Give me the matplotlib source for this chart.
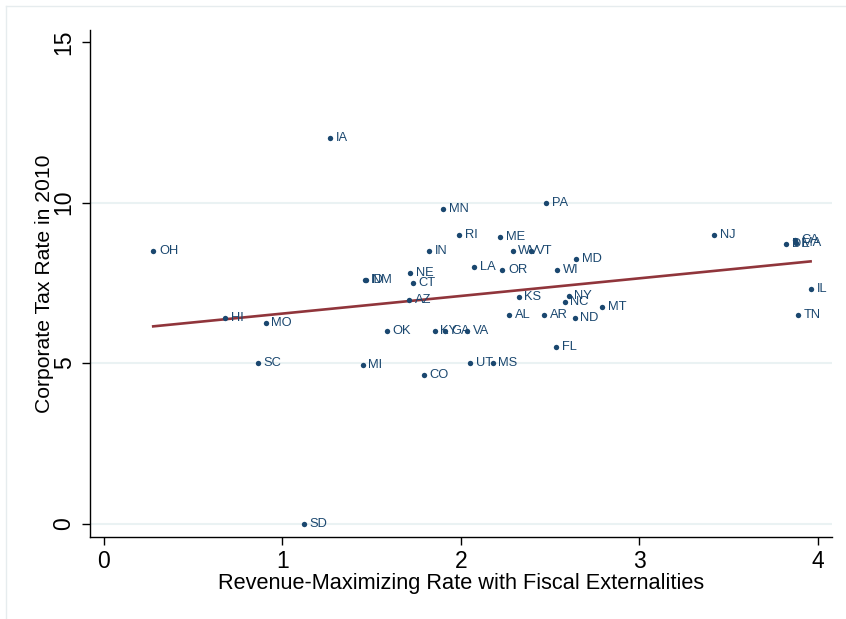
import numpy as np
import matplotlib
matplotlib.use("Agg")
import matplotlib.pyplot as plt
from matplotlib.lines import Line2D

# State corporate tax rates (2010) against the revenue-maximizing rate
states = ["IA", "PA", "MN", "OH", "RI", "ME", "NJ", "CA", "MA", "DE", "IN",
          "WV", "VT", "MD", "LA", "OR", "WI", "NE", "CT", "AZ", "KS", "NY",
          "NC", "MT", "AL", "AR", "ND", "OK", "KY", "GA", "VA", "FL", "UT",
          "MS", "CO", "MI", "SC", "HI", "MO", "ID", "NM", "IL", "TN", "SD"]
rev_max_rate = [1.269, 2.479, 1.902, 0.277, 1.992, 2.221, 3.418, 3.873, 3.878,
                3.824, 1.824, 2.290, 2.391, 2.647, 2.076, 2.233, 2.541, 1.717,
                1.730, 1.711, 2.324, 2.604, 2.582, 2.794, 2.272, 2.468, 2.638,
                1.586, 1.853, 1.913, 2.035, 2.533, 2.050, 2.178, 1.792, 1.450,
                0.862, 0.681, 0.907, 1.465, 1.468, 3.960, 3.890, 1.119]
corp_tax_2010 = [12.0, 9.99, 9.8, 8.5, 9.0, 8.93, 9.0, 8.84, 8.75, 8.7, 8.5,
                 8.5, 8.5, 8.25, 8.0, 7.9, 7.9, 7.81, 7.5, 6.968, 7.05, 7.1,
                 6.9, 6.75, 6.5, 6.5, 6.4, 6.0, 6.0, 6.0, 6.0, 5.5, 5.0, 5.0,
                 4.63, 4.95, 5.0, 6.4, 6.25, 7.6, 7.6, 7.3, 6.5, 0.0]

x_ticks = [0, 1, 2, 3, 4]
y_ticks = [0, 5, 10, 15]

navy = "#1a476f"
maroon = "#90353b"
grid_col = "#eaf2f3"

plt.rcParams["font.family"] = ["Liberation Sans", "DejaVu Sans"]

fig = plt.figure(figsize=(8.46, 6.19), dpi=100)
fig.patch.set_facecolor("white")

# light outer frame of the graph region
fig.add_artist(Line2D([6 / 846, 6 / 846], [0, 1 - 6 / 619], transform=fig.transFigure,
                      color="#e6ecee", lw=1.0))
fig.add_artist(Line2D([6 / 846, 1], [1 - 6 / 619, 1 - 6 / 619], transform=fig.transFigure,
                      color="#e6ecee", lw=1.0))

ax = fig.add_axes([89.5 / 846, 1 - 537 / 619, (832 - 89.5) / 846, (537 - 30) / 619])
ax.set_xlim(-0.08, 4.08)
ax.set_ylim(-0.42, 15.38)

for gy in y_ticks[:-1]:
    ax.axhline(gy, color=grid_col, lw=1.5, zorder=0)

x = np.array(rev_max_rate)
y = np.array(corp_tax_2010)

ax.scatter(x, y, s=15, color=navy, zorder=3, linewidths=0)
for s, xi, yi in zip(states, x, y):
    ax.annotate(s, (xi, yi), xytext=(4.2, 0), textcoords="offset points",
                ha="left", va="center", fontsize=9.3, color=navy, zorder=4)

# linear fit over the range of the data
slope, intercept = np.polyfit(x, y, 1)
xf = np.array([x.min(), x.max()])
ax.plot(xf, intercept + slope * xf, color=maroon, lw=1.9, zorder=2)

for side in ("top", "right"):
    ax.spines[side].set_visible(False)
for side in ("left", "bottom"):
    ax.spines[side].set_linewidth(1.0)
    ax.spines[side].set_color("black")

ax.set_xticks(x_ticks)
ax.set_yticks(y_ticks)
ax.set_yticklabels([str(v) for v in y_ticks], rotation=90, va="center")
ax.tick_params(axis="both", length=6, width=1.0, labelsize=16.5, color="black")
ax.tick_params(axis="y", pad=4)
ax.tick_params(axis="x", pad=3)

ax.set_xlabel("Revenue-Maximizing Rate with Fiscal Externalities", fontsize=15.7, labelpad=0)
ax.set_ylabel("Corporate Tax Rate in 2010", fontsize=15.2, labelpad=-1)

fig.savefig("out.png", dpi=100, facecolor="white")
